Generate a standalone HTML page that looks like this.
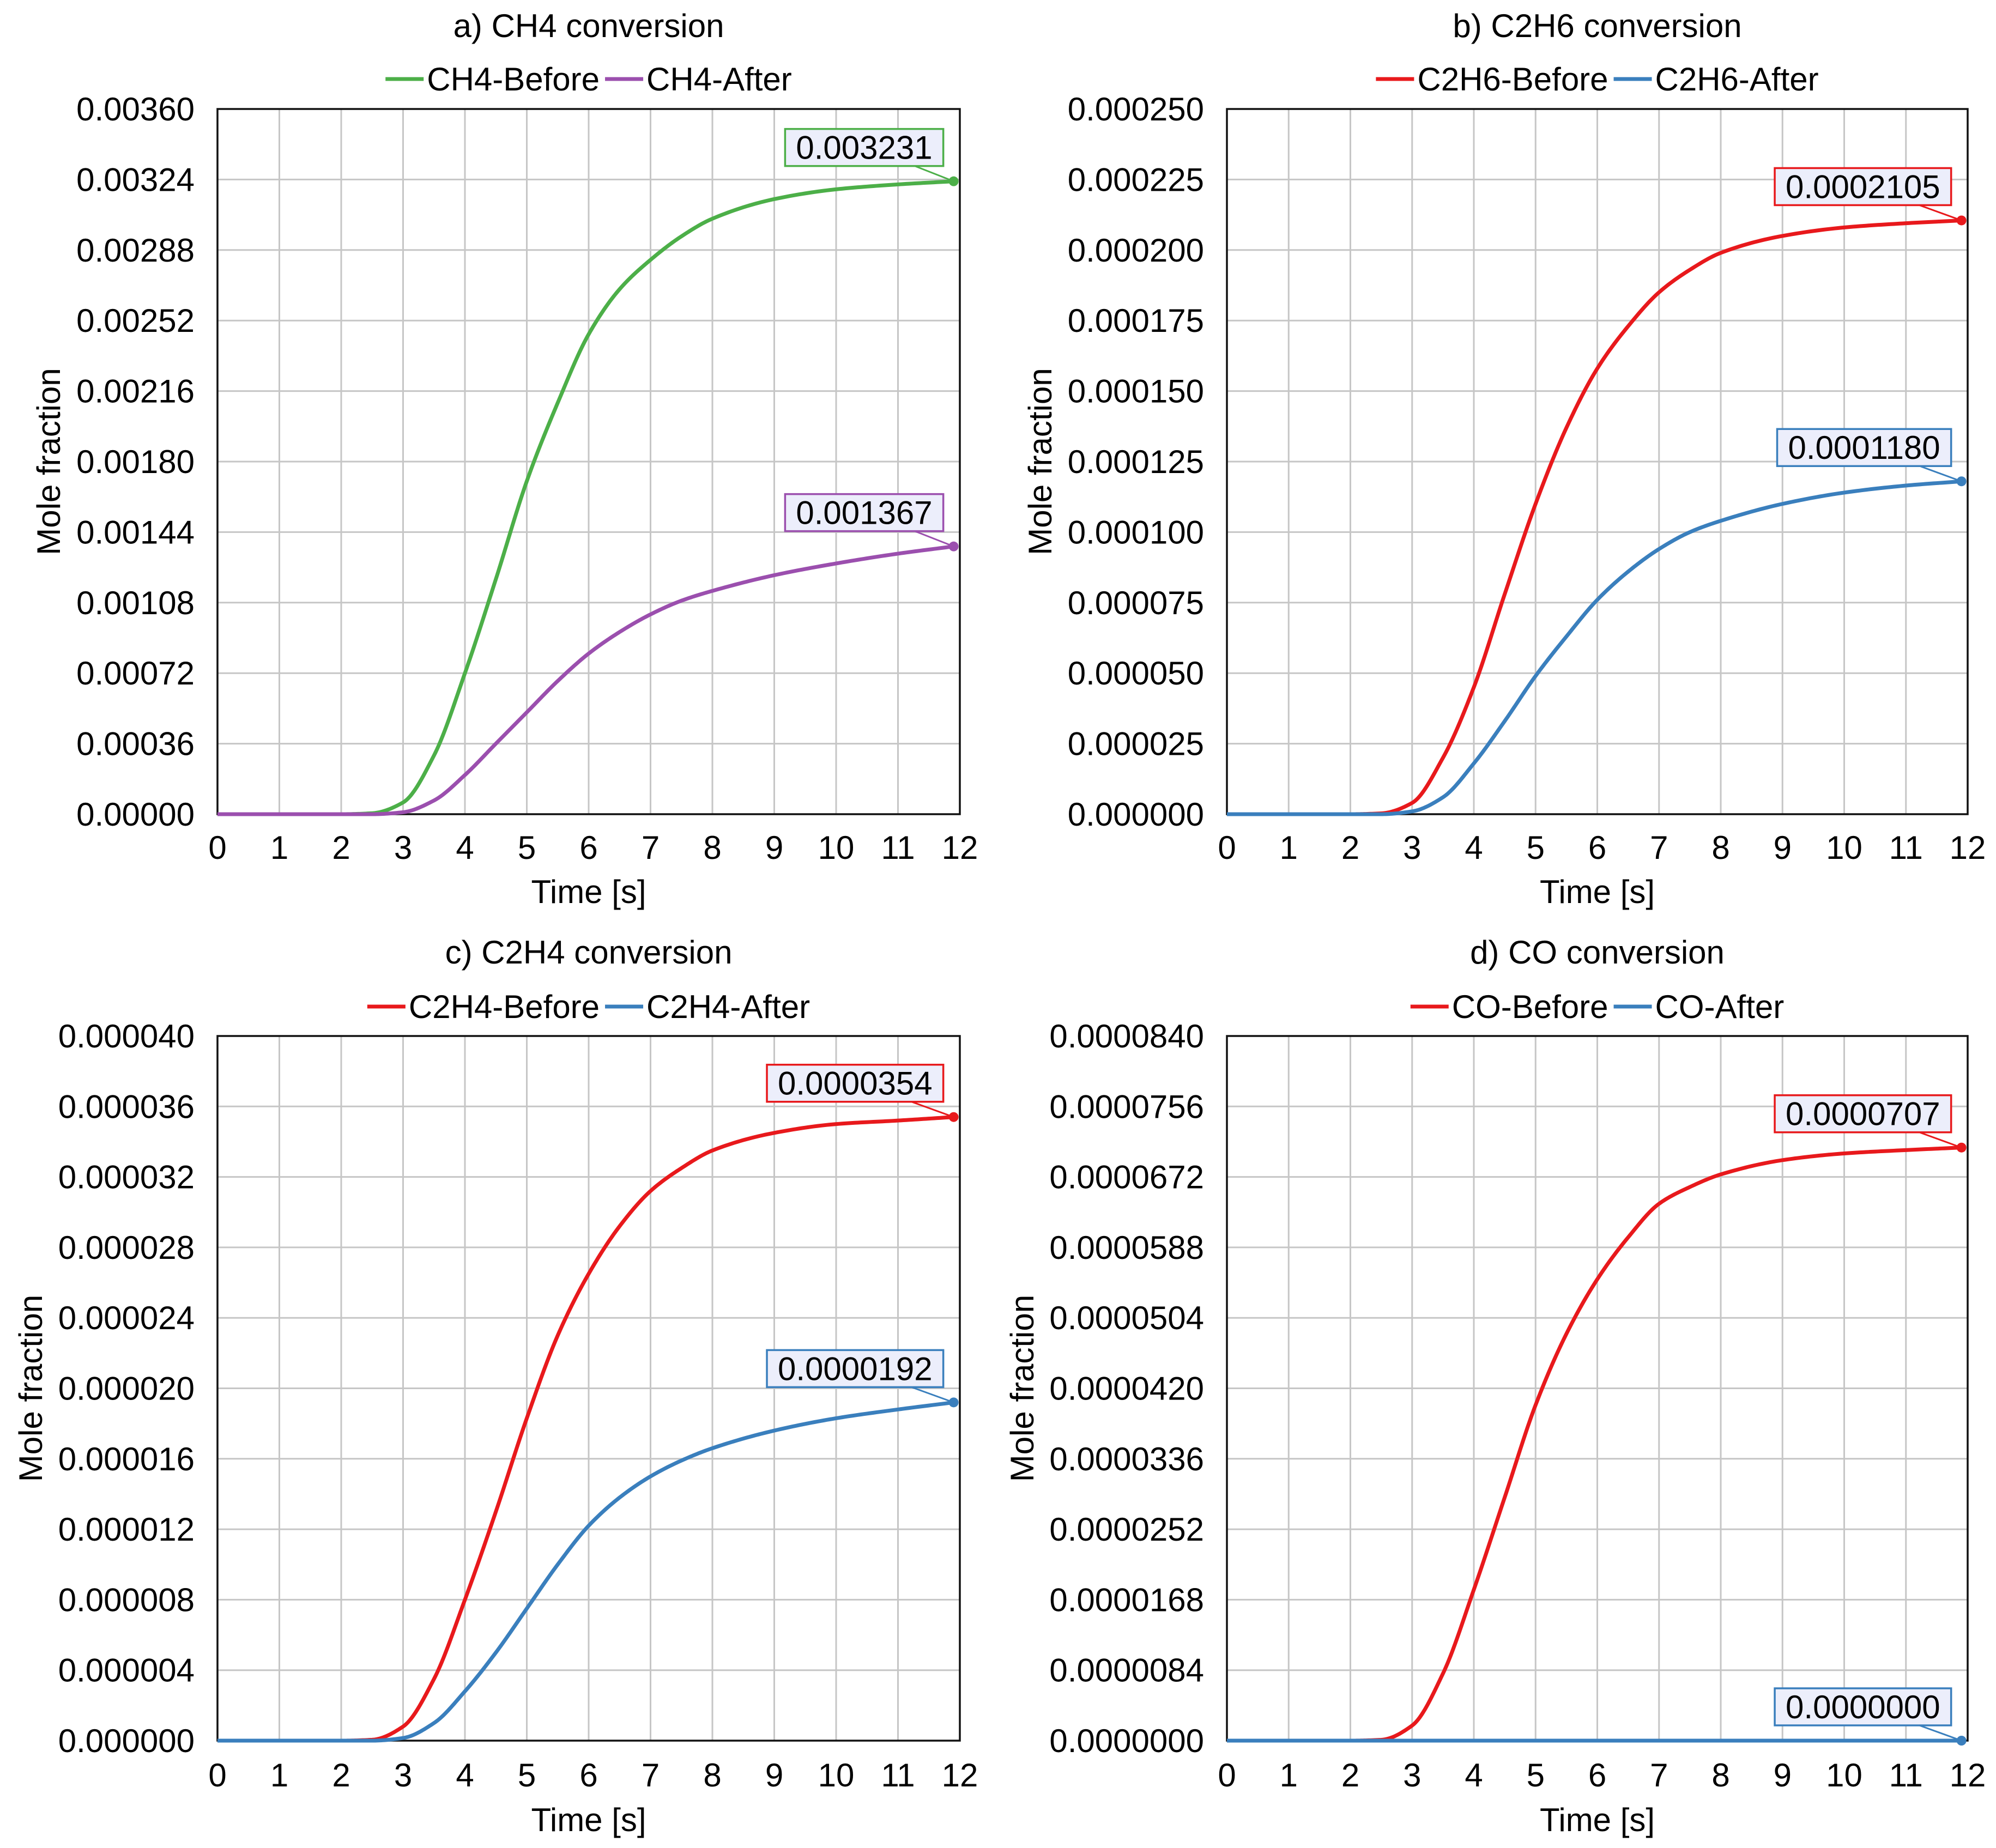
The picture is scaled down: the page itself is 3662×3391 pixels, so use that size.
<!DOCTYPE html>
<html><head><meta charset="utf-8"><style>
html,body{margin:0;padding:0;background:#fff;}
svg{display:block;font-family:"Liberation Sans",Arial,sans-serif;}
</style></head><body>
<svg id="c" width="3662" height="3391" viewBox="0 0 3662 3391"></svg>
<script>
const times=[0,1,2,2.5,3,3.5,4,4.5,5,5.5,6,6.5,7,7.5,8,9,10,11,11.9];
const ch4Before=[0,0,0,0.005,0.06,0.3,0.72,1.2,1.7,2.1,2.45,2.68,2.83,2.95,3.04,3.14,3.19,3.215,3.231];
const ch4After=[0,0,0,0,0.01,0.07,0.2,0.36,0.52,0.68,0.82,0.93,1.02,1.09,1.14,1.22,1.28,1.33,1.367];
const c2h6Before=[0,0,0,0.3,4,20,45,78,110,137,158,173,185,193,199,205,208,209.5,210.5];
const c2h6After=[0,0,0,0,1,6,18,33,49,63,76,86,94,100,104,110,114,116.5,118];
const c2h4Before=[0,0,0,0.05,0.8,3.5,8,13,18.3,23,26.5,29.2,31.2,32.5,33.5,34.5,35,35.2,35.4];
const c2h4After=[0,0,0,0,0.15,1,2.8,5,7.5,10,12.2,13.8,15,15.9,16.6,17.6,18.3,18.8,19.2];
const coBefore=[0,0,0,0.1,1.8,8,18,29,40,48.5,55,60,64,66,67.5,69.2,70,70.4,70.7];
const coAfter=[0,0,0,0,0,0,0,0,0,0,0,0,0,0,0,0,0,0,0];
const xTicks=[0,1,2,3,4,5,6,7,8,9,10,11,12];
const yTicksA=["0.00000","0.00036","0.00072","0.00108","0.00144","0.00180","0.00216","0.00252","0.00288","0.00324","0.00360"];
const yTicksB=["0.000000","0.000025","0.000050","0.000075","0.000100","0.000125","0.000150","0.000175","0.000200","0.000225","0.000250"];
const yTicksC=["0.000000","0.000004","0.000008","0.000012","0.000016","0.000020","0.000024","0.000028","0.000032","0.000036","0.000040"];
const yTicksD=["0.0000000","0.0000084","0.0000168","0.0000252","0.0000336","0.0000420","0.0000504","0.0000588","0.0000672","0.0000756","0.0000840"];
const labelsA=["0.003231","0.001367"];
const labelsB=["0.0002105","0.0001180"];
const labelsC=["0.0000354","0.0000192"];
const labelsD=["0.0000707","0.0000000"];

const NS="http://www.w3.org/2000/svg";
const svg=document.getElementById('c');
const FS=60;
function mk(tag,attrs,parent){const e=document.createElementNS(NS,tag);for(const k in attrs)e.setAttribute(k,attrs[k]);(parent||svg).appendChild(e);return e;}

const panels=[
 {id:'a',title:'a) CH4 conversion',L:399,R:1761,T:200,B:1494,ymax:3.6,ticks:yTicksA,tickR:357,ytX:89,
  series:[{name:'CH4-Before',data:ch4Before,color:'#4caf48',label:labelsA[0]},{name:'CH4-After',data:ch4After,color:'#9b4fae',label:labelsA[1]}],titleY:47,legY:145,xtY:1555,xtitleY:1636},
 {id:'b',title:'b) C2H6 conversion',L:2251,R:3610,T:200,B:1494,ymax:250,ticks:yTicksB,tickR:2209,ytX:1908,
  series:[{name:'C2H6-Before',data:c2h6Before,color:'#e8191c',label:labelsB[0]},{name:'C2H6-After',data:c2h6After,color:'#3a7fbd',label:labelsB[1]}],titleY:47,legY:145,xtY:1555,xtitleY:1636},
 {id:'c',title:'c) C2H4 conversion',L:399,R:1761,T:1901,B:3194,ymax:40,ticks:yTicksC,tickR:357,ytX:56,
  series:[{name:'C2H4-Before',data:c2h4Before,color:'#e8191c',label:labelsC[0]},{name:'C2H4-After',data:c2h4After,color:'#3a7fbd',label:labelsC[1]}],titleY:1747,legY:1847,xtY:3257,xtitleY:3339},
 {id:'d',title:'d) CO conversion',L:2251,R:3610,T:1901,B:3194,ymax:84,ticks:yTicksD,tickR:2209,ytX:1875,
  series:[{name:'CO-Before',data:coBefore,color:'#e8191c',label:labelsD[0]},{name:'CO-After',data:coAfter,color:'#3a7fbd',label:labelsD[1]}],titleY:1747,legY:1847,xtY:3257,xtitleY:3339}
];

// monotone cubic (Fritsch-Carlson) in data space, then sampled
function monoPath(xsArr,ysArr,xs,ys){
 const n=xsArr.length,d=[],m=new Array(n);
 for(let i=0;i<n-1;i++)d.push((ysArr[i+1]-ysArr[i])/(xsArr[i+1]-xsArr[i]));
 m[0]=d[0];m[n-1]=d[n-2];
 for(let i=1;i<n-1;i++){
  if(d[i-1]*d[i]<=0)m[i]=0;
  else{const h0=xsArr[i]-xsArr[i-1],h1=xsArr[i+1]-xsArr[i];const w1=2*h1+h0,w2=h1+2*h0;m[i]=(w1+w2)/(w1/d[i-1]+w2/d[i]);}
 }
 let p=`M${xs(xsArr[0])},${ys(ysArr[0])}`;
 for(let i=0;i<n-1;i++){
  const h=xsArr[i+1]-xsArr[i];
  for(let k=1;k<=20;k++){
   const t=k/20,t2=t*t,t3=t2*t;
   const y=(2*t3-3*t2+1)*ysArr[i]+(t3-2*t2+t)*h*m[i]+(-2*t3+3*t2)*ysArr[i+1]+(t3-t2)*h*m[i+1];
   p+=` L${xs(xsArr[i]+h*t).toFixed(2)},${ys(y).toFixed(2)}`;
  }
 }
 return p;
}

panels.forEach(p=>{
 const g=mk('g',{});
 
 
 const xs=v=>p.L+(p.R-p.L)*v/12;
 const ys=v=>p.B-(p.B-p.T)*v/p.ymax;
 const cx=(p.L+p.R)/2;
 const t=mk('text',{x:cx,y:p.titleY+21,'font-size':FS,'text-anchor':'middle',fill:'#000'},g);t.textContent=p.title;
 
 
 xTicks.forEach(v=>{const l=mk('line',{x1:xs(v),x2:xs(v),y1:p.T,y2:p.B,stroke:'#c6c6c6','stroke-width':3},g);
  
  
  const tx=mk('text',{x:xs(v),y:p.xtY+21,'font-size':FS,'text-anchor':'middle'},g);tx.textContent=v;
  
  });
 p.ticks.forEach((lab,i)=>{const v=p.ymax*i/(p.ticks.length-1);
  const l=mk('line',{x1:p.L,x2:p.R,y1:ys(v),y2:ys(v),stroke:'#c6c6c6','stroke-width':3},g);
  
  
  const ty=mk('text',{x:p.tickR,y:ys(v)+21,'font-size':FS,'text-anchor':'end'},g);ty.textContent=lab;
  
  });
 const fr=mk('rect',{x:p.L,y:p.T,width:p.R-p.L,height:p.B-p.T,fill:'none',stroke:'#111','stroke-width':3.5},g);
 
 
 const xt=mk('text',{x:cx,y:p.xtitleY+21,'font-size':FS,'text-anchor':'middle'},g);xt.textContent='Time [s]';
 
 
 const yy=(p.T+p.B)/2;
 const yt=mk('text',{x:p.ytX+21,y:yy,'font-size':FS,'text-anchor':'middle',transform:`rotate(-90 ${p.ytX+21} ${yy})`},g);yt.textContent='Mole fraction';
 
 
 const lg=mk('g',{},g);
 
 
 let x=0;
 p.series.forEach(s=>{
  const it=mk('g',{},lg);
  
  
  mk('line',{x1:x,x2:x+70,y1:0,y2:0,stroke:s.color,'stroke-width':7},it);
  const tt=mk('text',{x:x+76,y:21,'font-size':FS},it);tt.textContent=s.name;
  x+=76+tt.getComputedTextLength()+10;
 });
 lg.setAttribute('transform',`translate(${cx-(x-10)/2},${p.legY})`);
 p.series.forEach(s=>{
  const path=mk('path',{d:monoPath(times,s.data,xs,ys),fill:'none',stroke:s.color,'stroke-width':7,'stroke-linejoin':'round'},g);
  
  
  const last=[xs(times[times.length-1]),ys(s.data[s.data.length-1])];
  const dot=mk('circle',{cx:last[0],cy:last[1],r:9,fill:s.color},g);
  
  
  const bg=mk('g',{},g);
  
  
  const rect=mk('rect',{fill:'#eceefb',stroke:s.color,'stroke-width':3.5},bg);
  const lt=mk('text',{'font-size':FS,'text-anchor':'middle'},bg);lt.textContent=s.label;
  const w=lt.getComputedTextLength()+40,h=68;
  const rx=last[0]-19-w,ry=last[1]-28-h;
  rect.setAttribute('x',rx);rect.setAttribute('y',ry);rect.setAttribute('width',w);rect.setAttribute('height',h);
  lt.setAttribute('x',rx+w/2);lt.setAttribute('y',ry+h/2+21);
  mk('line',{x1:rx+w*0.82,y1:ry+h,x2:last[0],y2:last[1],stroke:s.color,'stroke-width':3},bg);
 });
});
</script>
</body></html>
